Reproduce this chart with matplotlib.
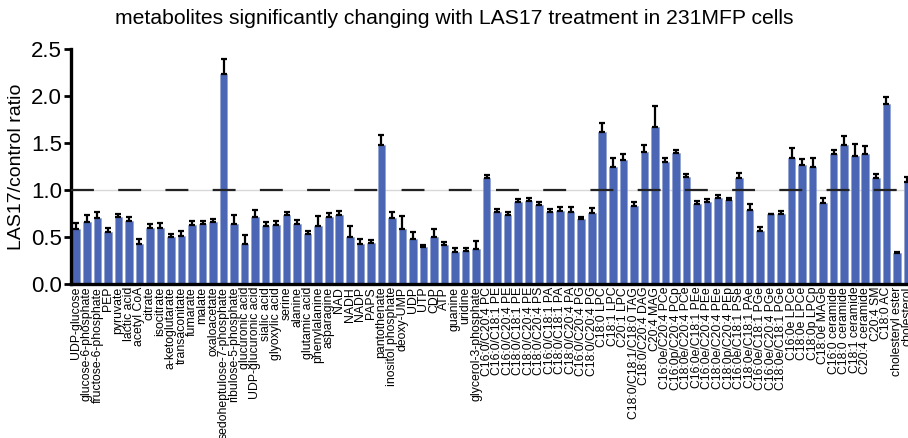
import matplotlib
matplotlib.use("Agg")
import matplotlib.pyplot as plt
import numpy as np

plt.rcParams['font.family'] = ['Liberation Sans', 'DejaVu Sans']
plt.rcParams['lines.scale_dashes'] = False

labels = [
    "UDP-glucose", "glucose-6-phosphate", "fructose-6-phosphate", "PEP", "pyruvate",
    "lactic acid", "acetyl CoA", "citrate", "isocitrate", "a-ketoglutarate",
    "transaconitate", "fumarate", "malate", "oxaloacetate", "sedoheptulose-7-phosphate",
    "ribulose-5-phosphate", "glucuronic acid", "UDP-glucuronic acid", "sialic acid", "glyoxylic acid",
    "serine", "alanine", "glutamic acid", "phenylalanine", "asparagine",
    "NAD", "NADH", "NADP", "PAPS", "pantothenate",
    "inositol phosphate", "deoxy-UMP", "UDP", "UTP", "CDP",
    "ATP", "guanine", "uridine", "glycerol-3-phosphate", "C16:0/C20:4 PC",
    "C16:0/C18:1 PE", "C16:0/C20:4 PE", "C18:0/C18:1 PE", "C18:0/C20:4 PE", "C18:0/C20:4 PS",
    "C16:0/C18:1 PA", "C18:0/C18:1 PA", "C18:0/C20:4 PA", "C16:0/C20:4 PG", "C18:0/C20:4 PG",
    "C18:0 LPC", "C18:1 LPC", "C20:1 LPC", "C18:0/C18:1/C18:0 TAG", "C18:0/C20:4 DAG",
    "C20:4 MAG", "C16:0e/C20:4 PCe", "C16:0p/C20:4 PCp", "C18:0e/C20:4 PCe", "C16:0e/C18:1 PEe",
    "C16:0e/C20:4 PEe", "C18:0e/C20:4 PEe", "C18:0p/C20:4 PEp", "C16:0e/C18:1 PSe", "C18:0e/C18:1 PAe",
    "C16:0e/C18:1 PGe", "C16:0e/C20:4 PGe", "C18:0e/C18:1 PGe", "C16:0e LPCe", "C18:0e LPCe",
    "C18:0p LPCp", "C18:0e MAGe", "C16:0 ceramide", "C18:0 ceramide", "C18:1 ceramide",
    "C20:4 ceramide", "C20:4 SM", "C18:0 AC", "cholesteryl ester", "cholesterol",
]

values = [
    0.59, 0.66, 0.70, 0.55, 0.71, 0.67, 0.43, 0.595, 0.60, 0.50,
    0.51, 0.63, 0.64, 0.66, 2.23, 0.64, 0.43, 0.71, 0.62, 0.63,
    0.73, 0.64, 0.53, 0.62, 0.71, 0.73, 0.50, 0.43, 0.44, 1.48,
    0.70, 0.58, 0.48, 0.39, 0.505, 0.41, 0.34, 0.35, 0.37, 1.13,
    0.77, 0.735, 0.875, 0.88, 0.84, 0.77, 0.774, 0.77, 0.69, 0.76,
    1.62, 1.25, 1.32, 0.835, 1.40, 1.67, 1.30, 1.39, 1.14, 0.85,
    0.875, 0.91, 0.896, 1.13, 0.79, 0.56, 0.74, 0.74, 1.34, 1.27,
    1.24, 0.86, 1.38, 1.48, 1.36, 1.38, 1.13, 1.91, 0.33, 1.08,
]

errors = [
    0.055, 0.07, 0.07, 0.05, 0.035, 0.04, 0.05, 0.045, 0.05, 0.03,
    0.05, 0.04, 0.03, 0.03, 0.16, 0.09, 0.09, 0.08, 0.04, 0.04,
    0.04, 0.04, 0.03, 0.10, 0.05, 0.05, 0.12, 0.05, 0.03, 0.10,
    0.07, 0.14, 0.07, 0.03, 0.075, 0.04, 0.04, 0.03, 0.085, 0.03,
    0.03, 0.035, 0.025, 0.03, 0.035, 0.03, 0.046, 0.05, 0.02, 0.05,
    0.09, 0.09, 0.06, 0.035, 0.08, 0.22, 0.04, 0.04, 0.025, 0.03,
    0.025, 0.036, 0.024, 0.05, 0.06, 0.05, 0.01, 0.04, 0.11, 0.06,
    0.10, 0.05, 0.05, 0.09, 0.13, 0.09, 0.04, 0.08, 0.014, 0.06,
]

yticks = [0.0, 0.5, 1.0, 1.5, 2.0, 2.5]

fig = plt.figure(figsize=(9.08, 4.38), dpi=100)
ax = fig.add_axes([71/908, 1 - 284/438, 841.6/908, (284 - 49)/438])

x = np.arange(len(values))
ax.bar(x, values, width=0.72, color='#4a66b4', edgecolor='#8a9dd0', linewidth=0.4, zorder=2)
ax.errorbar(x, values, yerr=[np.zeros(len(errors)), errors], fmt='none',
            ecolor='black', elinewidth=1.6, capsize=2.2, capthick=1.6, zorder=3)

ax.axhline(1.0, color='#d8d8d8', linewidth=1.0, zorder=1)
ax.axhline(1.0, color='#222222', linewidth=1.6, dashes=(16.5, 17.5), zorder=4)

ax.set_xlim(-0.5, len(values) - 0.5)
ax.set_ylim(0, 2.5)
ax.set_yticks(yticks)
ax.set_yticklabels([f"{t:.1f}" for t in yticks], fontsize=16)
ax.set_xticks(x)
ax.set_xticklabels(labels, rotation=90, fontsize=8.8, ha='center', va='top')
ax.tick_params(axis='x', length=0, pad=2)
ax.tick_params(axis='y', length=5, width=2, pad=1.5)

for s in ['top', 'right']:
    ax.spines[s].set_visible(False)
for s in ['left', 'bottom']:
    ax.spines[s].set_linewidth(2.4)

ax.set_ylabel("LAS17/control ratio", fontsize=14, labelpad=4)
fig.text(0.5, 1 - 18/438, "metabolites significantly changing with LAS17 treatment in 231MFP cells",
         ha='center', va='center', fontsize=15.2)

fig.savefig("out.png", dpi=100)
